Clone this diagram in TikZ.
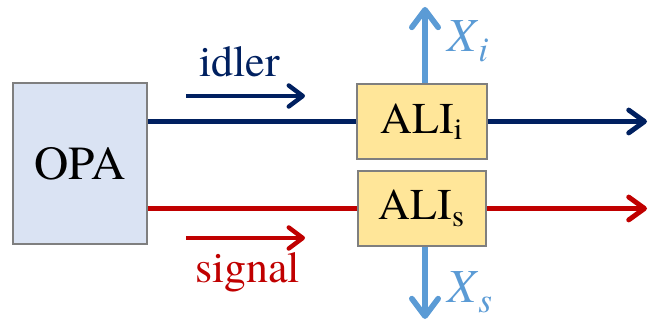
\documentclass[tikz,border=0pt]{standalone}
\usepackage{fontspec}
\setmainfont{texgyretermes}[Extension=.otf, UprightFont=*-regular, ItalicFont=*-italic, BoldFont=*-bold, BoldItalicFont=*-bolditalic]
\usepackage{tikz}
\usetikzlibrary{arrows.meta, positioning}
\definecolor{idlerblue}{RGB}{0,32,96}
\definecolor{signalred}{RGB}{192,0,0}
\definecolor{outblue}{RGB}{91,155,213}
\definecolor{opafill}{RGB}{218,227,243}
\definecolor{alifill}{RGB}{255,230,153}
\definecolor{boxgray}{RGB}{127,127,127}
\newcommand{\quadsub}[1]{\raisebox{-0.2cm}{\fontsize{20}{24}\selectfont\textit{#1}}}

\begin{document}
\begin{tikzpicture}[
    font=\rmfamily\fontsize{25}{30}\selectfont,
    block/.style={draw=boxgray, line width=1.6pt, inner sep=0pt},
    beam/.style={line width=2.8pt, -{Straight Barb[length=9pt, width=13pt, line cap=round, line join=round]}},
    flow/.style={line width=2.5pt, -{Straight Barb[length=8pt, width=12pt, line cap=round, line join=round]}},
    outarrow/.style={outblue, line width=3.2pt, -{Straight Barb[length=10pt, width=15pt, line cap=round, line join=round]}},
    quadlabel/.style={anchor=base west, text=outblue, inner sep=0pt, font=\rmfamily\fontsize{27}{30}\selectfont}
  ]
  \useasboundingbox (0,0) rectangle (12.98,6.44);
  % Source
  \node[block, fill=opafill, minimum width=2.68cm, minimum height=3.22cm,
        font=\rmfamily\fontsize{27}{30}\selectfont] (opa) at (1.6,3.17) {OPA};
  % Interferometers
  \node[block, fill=alifill, minimum width=2.6cm, minimum height=1.5cm] (alii) at (8.44,4.01) {ALI\textsubscript{i}};
  \node[block, fill=alifill, minimum width=2.56cm, minimum height=1.5cm] (alis) at (8.44,2.27) {ALI\textsubscript{s}};
  % Outputs
  \coordinate (iout) at (12.94,4.01);
  \coordinate (sout) at (12.94,2.27);
  \coordinate (xiend) at (8.5,6.3);
  \coordinate (xsend) at (8.5,0.06);
  % Beams
  \draw[line width=2.8pt, idlerblue] (opa.east |- alii) -- (alii.west);
  \draw[beam, idlerblue] (alii.east) -- (iout);
  \draw[line width=2.8pt, signalred] (opa.east |- alis) -- (alis.west);
  \draw[beam, signalred] (alis.east) -- (sout);
  % Measured outputs
  \draw[outarrow] (8.5,0 |- alii.north) -- (xiend);
  \draw[outarrow] (8.5,0 |- alis.south) -- (xsend);
  \node[quadlabel] (xi) at (8.94,5.4) {\textit{X}\quadsub{i}};
  \node[quadlabel] (xs) at (8.94,0.38) {\textit{X}\quadsub{s}};
  % Labels
  \node[anchor=base, text=idlerblue, inner sep=0pt] (idlerlab) at (4.79,4.9) {idler};
  \coordinate (idlerA) at (3.72,4.52);
  \coordinate (idlerB) at (6.1,4.52);
  \draw[flow, idlerblue] (idlerA) -- (idlerB);
  \node[anchor=base, text=signalred, inner sep=0pt] (signallab) at (4.95,0.78) {signal};
  \coordinate (signalA) at (3.72,1.68);
  \coordinate (signalB) at (6.1,1.68);
  \draw[flow, signalred] (signalA) -- (signalB);
\end{tikzpicture}
\end{document}
